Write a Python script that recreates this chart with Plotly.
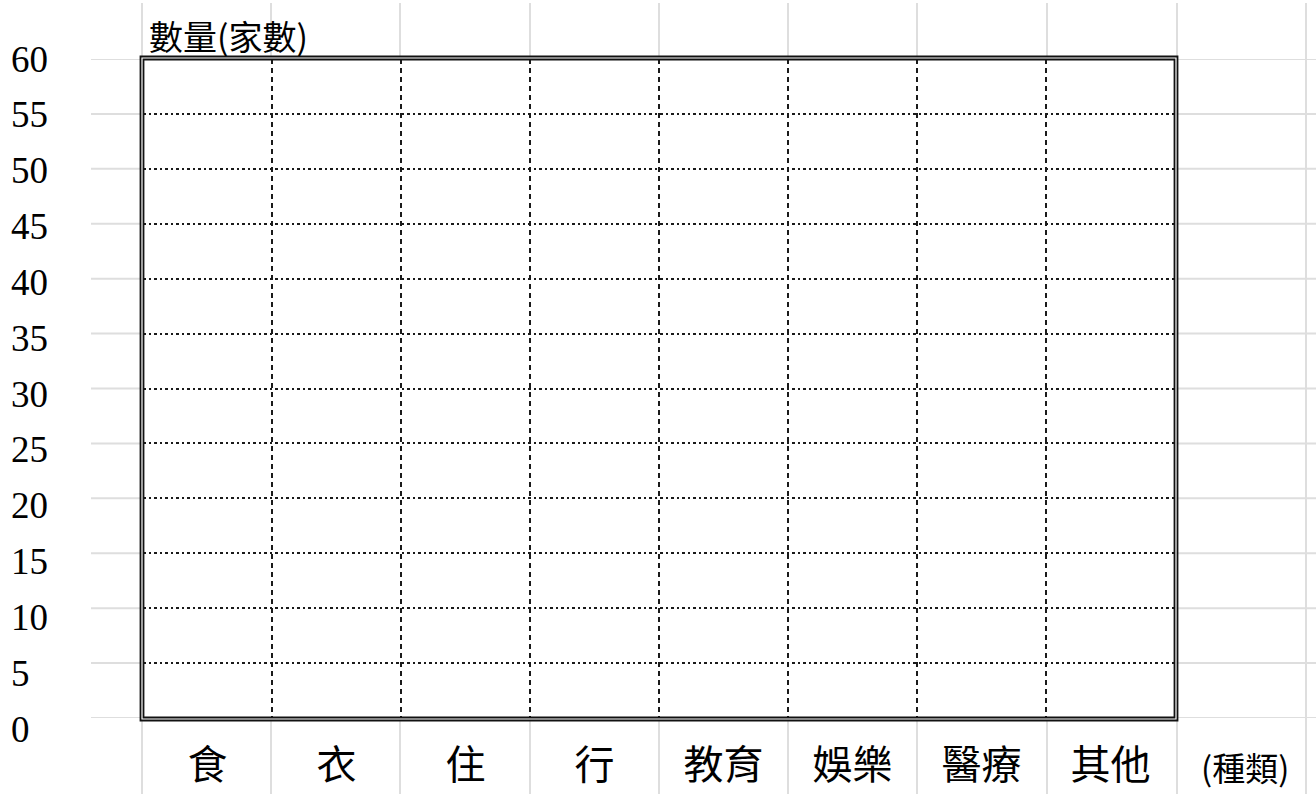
import plotly.graph_objects as go

# ---- data (blank template: categories and value axis only) ----
categories = ["食", "衣", "住", "行", "教育", "娛樂", "醫療", "其他"]
y_ticks = [0, 5, 10, 15, 20, 25, 30, 35, 40, 45, 50, 55, 60]
y_title = "數量(家數)"
x_title = "(種類)"

W, H = 1316, 794
L, R, T, B = 143, 141, 59, 76
PW, PH = W - L - R, H - T - B


def px(xp):
    return (xp - L) / PW


def py(yp):
    return (H - B - yp) / PH


CJK = "Noto Sans CJK TC, Noto Sans CJK SC, sans-serif"
shapes = []
# spreadsheet-like light gray cell grid in the background
for xp in [142, 271, 400, 530, 659, 788, 917, 1047, 1177, 1306]:
    shapes.append(dict(type="line", xref="paper", yref="paper", x0=px(xp), x1=px(xp),
                       y0=py(3), y1=py(H), line=dict(color="#dedede", width=2), layer="below"))
for v in y_ticks:
    shapes.append(dict(type="line", xref="paper", yref="y", x0=px(91), x1=px(W),
                       y0=v, y1=v, line=dict(color="#dedede", width=2), layer="below"))
# white chart area covering cell grid
shapes.append(dict(type="rect", xref="paper", yref="paper", x0=px(140), x1=px(1178),
                   y0=py(721), y1=py(56), fillcolor="white", line=dict(width=0), layer="below"))
# double border
shapes.append(dict(type="rect", xref="paper", yref="paper", x0=px(140.5), x1=px(1177.5),
                   y0=py(720.5), y1=py(56.5), line=dict(color="#111111", width=1.8), layer="above"))
shapes.append(dict(type="rect", xref="paper", yref="paper", x0=px(143.5), x1=px(1174.5),
                   y0=py(717.5), y1=py(59.5), line=dict(color="#111111", width=1.8), layer="above"))

annotations = []
for v in y_ticks:
    annotations.append(dict(x=px(9), y=v, xref="paper", yref="y", text=str(v),
                            showarrow=False, xanchor="left", yanchor="middle",
                            yshift=-(60 - v) / 60 * 11,
                            font=dict(family="Liberation Serif, serif", size=37, color="black")))
annotations.append(dict(x=px(147), y=py(35), xref="paper", yref="paper", text=y_title,
                        showarrow=False, xanchor="left", yanchor="middle",
                        font=dict(family=CJK, size=34, color="black")))
annotations.append(dict(x=px(1245), y=py(767), xref="paper", yref="paper", text=x_title,
                        showarrow=False, xanchor="center", yanchor="middle",
                        font=dict(family=CJK, size=33, color="black")))

fig = go.Figure()
fig.add_trace(go.Scatter(x=list(range(len(categories))), y=[None] * len(categories),
                         mode="markers", showlegend=False, hoverinfo="skip"))

fig.update_layout(
    width=W, height=H,
    margin=dict(l=L, r=R, t=T, b=B, pad=0, autoexpand=False),
    paper_bgcolor="white", plot_bgcolor="white",
    shapes=shapes, annotations=annotations, showlegend=False,
    xaxis=dict(range=[-0.5, len(categories) - 0.5], tickmode="array",
               tickvals=list(range(len(categories))), ticktext=categories,
               showgrid=False, zeroline=False, showline=False, ticks="",
               automargin=False, ticklabelstandoff=20,
               tickfont=dict(family=CJK, size=40, color="black"),
               minor=dict(tickmode="array",
                          tickvals=[i + 0.5 for i in range(len(categories) - 1)],
                          showgrid=True, gridcolor="#1a1a1a", gridwidth=1.5,
                          griddash="5px,4px", ticks="")),
    yaxis=dict(range=[0, 60], tickmode="array", tickvals=y_ticks, showticklabels=False,
               showgrid=True, gridcolor="#1a1a1a", gridwidth=1.5, griddash="2.5px,3px",
               zeroline=False, showline=False, ticks="", automargin=False),
)

fig.write_html("out.html", config={"displayModeBar": False},
               post_script="document.body.style.margin='0';document.body.style.overflow='hidden';")
